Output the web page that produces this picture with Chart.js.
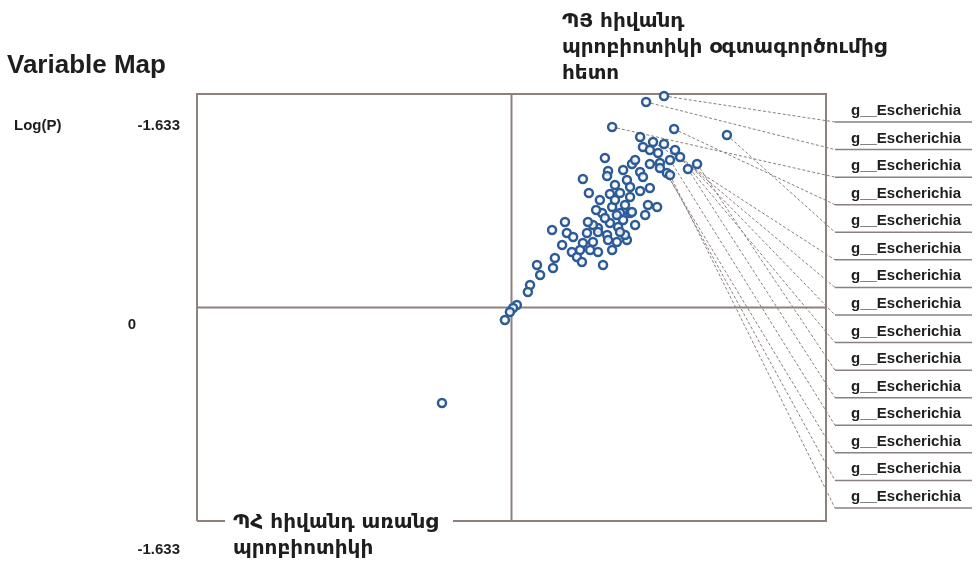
<!DOCTYPE html>
<html>
<head>
<meta charset="utf-8">
<script src="https://cdn.jsdelivr.net/npm/chart.js@4"></script>
<style>
  body { margin: 0; background: #fff; }
</style>
</head>
<body>
<canvas id="chart" width="979" height="585"></canvas>
<script>
// unlabeled variables (p[1], p(corr))
const xValues = [0.409, 0.418, 0.466, 0.297, 0.383, 0.440, 0.409, 0.355, 0.307, 0.304,
  0.227, 0.246, 0.367, 0.418, 0.472, 0.377, 0.409, 0.440, 0.313, 0.345,
  0.377, 0.434, 0.463, 0.288, 0.320, 0.345, 0.377, 0.170, 0.129, 0.176,
  0.196, 0.240, 0.275, 0.313, 0.355, 0.367, 0.335, 0.304, 0.259, 0.227,
  0.192, 0.208, 0.138, 0.132, 0.224, 0.291, 0.320, 0.275, 0.250, 0.081,
  0.091, 0.059, 0.052, 0.017, 0.005, -0.005, -0.021, 0.275, 0.361, 0.339,
  0.383, -0.221, 0.329, 0.361, 0.297, 0.259, 0.335, 0.281, 0.269, 0.307,
  0.243, 0.345, 0.393, 0.425, 0.218, 0.161, 0.329, 0.440, 0.393];
const yValues = [1.304, 1.228, 1.182, 1.144, 1.098, 1.098, 1.036, 1.052, 1.044, 1.006,
  0.983, 0.876, 0.975, 0.998, 1.067, 0.922, 0.891, 0.914, 0.868, 0.876,
  0.845, 0.784, 0.769, 0.723, 0.769, 0.723, 0.723, 0.654, 0.593, 0.570,
  0.539, 0.570, 0.608, 0.646, 0.669, 0.516, 0.501, 0.555, 0.501, 0.493,
  0.425, 0.386, 0.379, 0.302, 0.348, 0.325, 0.440, 0.425, 0.440, 0.325,
  0.249, 0.172, 0.119, 0.019, -0.004, -0.034, -0.096, 0.578, 0.555, 0.616,
  0.730, -0.730, 0.822, 0.784, 0.685, 0.631, 0.708, 0.822, 0.746, 0.516,
  0.654, 0.578, 0.631, 0.708, 0.440, 0.478, 0.937, 1.205, 1.128];

// labeled variables
const labeledX = [0.485, 0.428, 0.320, 0.517, 0.685, 0.450, 0.485, 0.520, 0.536, 0.590,
  0.561, 0.504, 0.472, 0.494, 0.504];
const labeledY = [1.618, 1.572, 1.381, 1.365, 1.319, 1.266, 1.251, 1.205, 1.151, 1.098,
  1.059, 1.128, 1.105, 1.029, 1.013];
const pointLabels = ['g__Escherichia', 'g__Escherichia', 'g__Escherichia', 'g__Escherichia',
  'g__Escherichia', 'g__Escherichia', 'g__Escherichia', 'g__Escherichia', 'g__Escherichia',
  'g__Escherichia', 'g__Escherichia', 'g__Escherichia', 'g__Escherichia', 'g__Escherichia',
  'g__Escherichia'];

const yTickLabels = ['-1.633', '0', '-1.633'];
const chartTitle = 'Variable Map';
const yAxisTitle = 'Log(P)';
const topGroupLabel = ['ՊՅ հիվանդ', 'պրոբիոտիկի օգտագործումից', 'հետո'];
const bottomGroupLabel = ['ՊՀ հիվանդ առանց', 'պրոբիոտիկի'];

const armFont = 'bold 20px "DejaVu Sans"';
const latFont = 'bold 15px "Liberation Sans", Arial, sans-serif';
const boxColor = '#8f807c';
const dotColor = '#2c5b98';

const points = xValues.map((x, i) => ({ x: x, y: yValues[i] }));
const labeled = labeledX.map((x, i) => ({ x: x, y: labeledY[i] }));

const mapPlugin = {
    id: 'mapPlugin',
    beforeDatasetsDraw(chart) {
        const ctx = chart.ctx;
        const a = chart.chartArea;
        const xs = chart.scales.x, ys = chart.scales.y;
        const cx = xs.getPixelForValue(0), cy = ys.getPixelForValue(0);
        ctx.save();
        ctx.strokeStyle = boxColor;
        ctx.lineWidth = 2;
        ctx.beginPath();
        ctx.moveTo(a.left, a.bottom); ctx.lineTo(a.left, a.top);
        ctx.lineTo(a.right, a.top); ctx.lineTo(a.right, a.bottom);
        ctx.lineTo(453, a.bottom);
        ctx.moveTo(a.left, a.bottom); ctx.lineTo(225, a.bottom);
        ctx.moveTo(cx, a.top); ctx.lineTo(cx, a.bottom);
        ctx.moveTo(a.left, cy); ctx.lineTo(a.right, cy);
        ctx.stroke();

        // leader lines to labels
        const rowTop = 122, rowStep = 27.57;
        ctx.strokeStyle = '#8a7f7c';
        ctx.lineWidth = 1;
        ctx.setLineDash([3, 2]);
        labeled.forEach((p, i) => {
            ctx.beginPath();
            ctx.moveTo(xs.getPixelForValue(p.x), ys.getPixelForValue(p.y));
            ctx.lineTo(835, rowTop + i * rowStep);
            ctx.stroke();
        });
        ctx.setLineDash([]);

        // label underlines and texts
        ctx.strokeStyle = '#8a807e';
        ctx.lineWidth = 1.5;
        ctx.fillStyle = '#1e1e1e';
        ctx.font = latFont;
        ctx.textAlign = 'left';
        ctx.textBaseline = 'alphabetic';
        pointLabels.forEach((t, i) => {
            const y = rowTop + i * rowStep;
            ctx.beginPath();
            ctx.moveTo(835, y); ctx.lineTo(972, y);
            ctx.stroke();
            ctx.fillText(t, 851, y - 7);
        });
        ctx.restore();
    },
    afterDraw(chart) {
        const ctx = chart.ctx;
        ctx.save();
        ctx.fillStyle = '#1e1e1e';
        ctx.textBaseline = 'alphabetic';
        ctx.textAlign = 'left';
        ctx.font = 'bold 26px "Liberation Sans", Arial, sans-serif';
        ctx.fillText(chartTitle, 7, 73);
        ctx.font = latFont;
        ctx.fillText(yAxisTitle, 14, 130);
        ctx.textAlign = 'right';
        ctx.fillText(yTickLabels[0], 180, 130);
        ctx.fillText(yTickLabels[1], 136, 329);
        ctx.fillText(yTickLabels[2], 180, 554);
        ctx.textAlign = 'left';
        ctx.font = armFont;
        topGroupLabel.forEach((t, i) => ctx.fillText(t, 562, 27 + i * 26));
        bottomGroupLabel.forEach((t, i) => ctx.fillText(t, 233, 528 + i * 26));
        ctx.restore();
    }
};

const dotStyle = {
    pointRadius: 4,
    pointBorderWidth: 2.5,
    borderColor: dotColor,
    backgroundColor: 'rgba(255,255,255,0.85)',
    clip: false
};

new Chart(document.getElementById('chart'), {
    type: 'scatter',
    data: {
        datasets: [
            Object.assign({ data: points }, dotStyle),
            Object.assign({ data: labeled }, dotStyle)
        ]
    },
    options: {
        responsive: false,
        devicePixelRatio: 1,
        animation: false,
        layout: { padding: { left: 197, right: 153, top: 94, bottom: 64 } },
        plugins: { legend: { display: false }, tooltip: { enabled: false } },
        scales: {
            x: { display: false, min: -1, max: 1 },
            y: { display: false, min: -1.633, max: 1.633 }
        }
    },
    plugins: [mapPlugin]
});
</script>
</body>
</html>
